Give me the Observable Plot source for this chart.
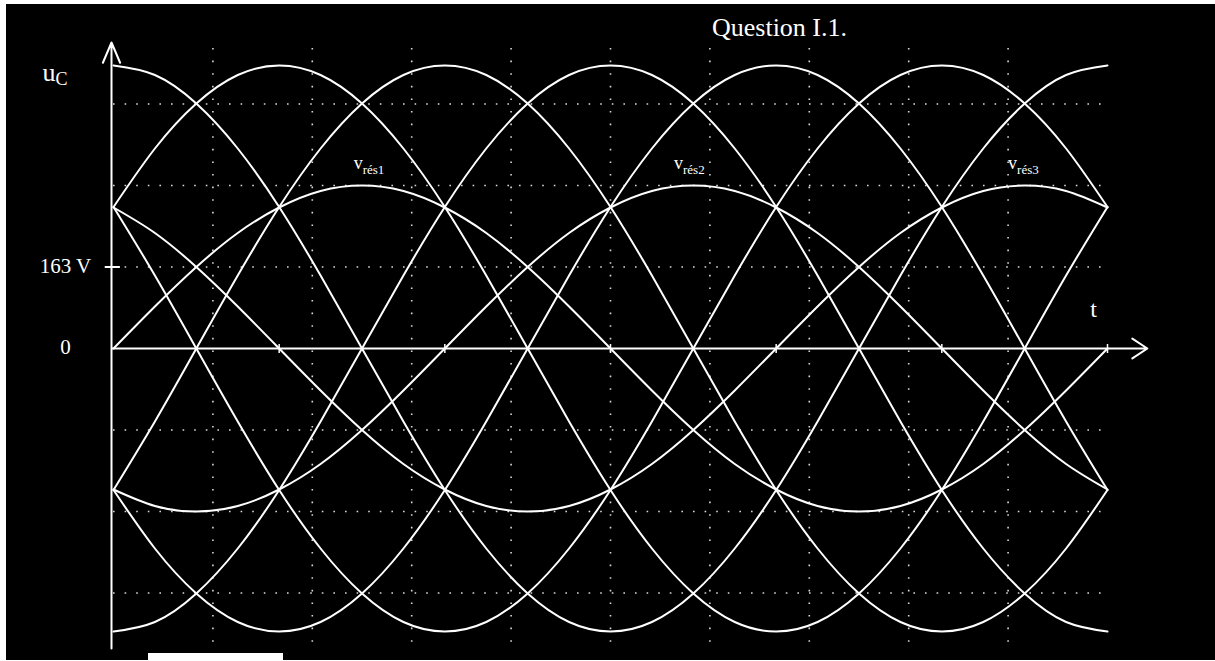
<!DOCTYPE html>
<html><head><meta charset="utf-8">
<script src="https://cdn.jsdelivr.net/npm/d3@7"></script>
<script src="https://cdn.jsdelivr.net/npm/@observablehq/plot@0.6"></script>
<style>
html,body{margin:0;padding:0;background:#fff;}
#wrap{position:relative;width:1215px;height:661px;overflow:hidden;background:#000;}
#wrap svg{display:block;}
.w{position:absolute;background:#fff;}
</style></head><body>
<div id="wrap"></div>
<script>
// angle (degrees) along t
const t = [0,15,30,45,60,75,90,105,120,135,150,165,180,195,210,225,240,255,270,285,300,315,330,345,360];
// composed voltages (V) and their opposites
const u32 = [566,547,490,400,283,146,0,-146,-283,-400,-490,-547,-566,-547,-490,-400,-283,-146,0,146,283,400,490,547,566];
const u12 = [283,400,490,547,566,547,490,400,283,146,0,-146,-283,-400,-490,-547,-566,-547,-490,-400,-283,-146,0,146,283];
const u13 = [-283,-146,0,146,283,400,490,547,566,547,490,400,283,146,0,-146,-283,-400,-490,-547,-566,-547,-490,-400,-283];
const u23 = [-566,-547,-490,-400,-283,-146,0,146,283,400,490,547,566,547,490,400,283,146,0,-146,-283,-400,-490,-547,-566];
const u21 = [-283,-400,-490,-547,-566,-547,-490,-400,-283,-146,0,146,283,400,490,547,566,547,490,400,283,146,0,-146,-283];
const u31 = [283,146,0,-146,-283,-400,-490,-547,-566,-547,-490,-400,-283,-146,0,146,283,400,490,547,566,547,490,400,283];
// network phase voltages (V)
const vres1 = [0,84,163,231,282,315,326,315,282,231,163,84,0,-84,-163,-231,-282,-315,-326,-315,-282,-231,-163,-84,0];
const vres2 = [-282,-315,-326,-315,-282,-231,-163,-84,0,84,163,231,282,315,326,315,282,231,163,84,0,-84,-163,-231,-282];
const vres3 = [282,231,163,84,0,-84,-163,-231,-282,-315,-326,-315,-282,-231,-163,-84,0,84,163,231,282,315,326,315,282];

const seriesNames = ["u32","u12","u13","u23","u21","u31","vres1","vres2","vres3"];
const seriesValues = [u32,u12,u13,u23,u21,u31,vres1,vres2,vres3];

// labels
const resLabels = ["rés1","rés2","rés3"];
const resLabelT = [87, 203, 324];
const resLabelV = [360, 360, 360];
const yTickValues = [0, 163];
const yTickLabels = ["0", "163 V"];
const gridT = [36,72,108,144,180,216,252,288,324];
const gridV = [-489,-326,-163,163,326,489];
const axisTickT = [60,120,180,240,300,360];

const table = seriesNames.flatMap((name, i) => t.map((tt, k) => ({series: name, t: tt, v: seriesValues[i][k]})));
const resTable = resLabels.map((s, i) => ({label: s, t: resLabelT[i], v: resLabelV[i]}));
const yTickTable = yTickValues.map((v, i) => ({v, label: yTickLabels[i]}));

const serif = "'Liberation Serif', 'Times New Roman', serif";
const W = "white";

const chart = Plot.plot({
  width: 1215,
  height: 661,
  marginLeft: 113,
  marginRight: 108,
  marginTop: 48,
  marginBottom: 13,
  style: {background: "black", color: "white", fontFamily: serif},
  x: {domain: [0, 360], axis: null},
  y: {domain: [-600, 600], axis: null},
  marks: [
    Plot.ruleX(gridT, {stroke: W, strokeWidth: 1.6, strokeDasharray: "1.6,11", strokeOpacity: 0.85}),
    Plot.ruleY(gridV, {stroke: W, strokeWidth: 1.6, strokeDasharray: "1.6,10", strokeOpacity: 0.85}),
    Plot.line(table, {x: "t", y: "v", z: "series", stroke: W, strokeWidth: 2, curve: "natural"}),
    Plot.arrow([0], {x1: 0, y1: 0, x2: 374.8, y2: 0, dx: -1, stroke: W, strokeWidth: 2, headLength: 13.5, headAngle: 67}),
    Plot.arrow([0], {x1: 0, y1: -600, x2: 0, y2: 612, dx: -2, stroke: W, strokeWidth: 2, headLength: 16.5, headAngle: 46}),
    Plot.ruleX(axisTickT, {y1: -10, y2: 8, stroke: W, strokeWidth: 1.5}),
    Plot.ruleY([yTickValues[1]], {x1: -3, x2: 2.5, stroke: W, strokeWidth: 2}),
    Plot.text(yTickTable, {y: "v", text: "label", frameAnchor: "left", dx: -48, dy: -1, textAnchor: "middle", fill: W, fontSize: 21, fontFamily: serif}),
    Plot.text(resTable, {x: "t", y: "v", text: () => "v", textAnchor: "start", lineAnchor: "bottom", fill: W, fontSize: 18, fontFamily: serif}),
    Plot.text(resTable, {x: "t", y: "v", text: "label", dx: 9, dy: 5, textAnchor: "start", lineAnchor: "bottom", fill: W, fontSize: 13, fontFamily: serif}),
    Plot.text(["u"], {frameAnchor: "top-left", dx: -71, dy: 32, textAnchor: "start", lineAnchor: "bottom", fill: W, fontSize: 26, fontFamily: serif}),
    Plot.text(["C"], {frameAnchor: "top-left", dx: -58, dy: 36, textAnchor: "start", lineAnchor: "bottom", fill: W, fontSize: 18, fontFamily: serif}),
    Plot.text(["t"], {frameAnchor: "top-left", dx: 980, dy: 268, textAnchor: "middle", lineAnchor: "bottom", fill: W, fontSize: 24, fontFamily: serif}),
    Plot.text(["Question I.1."], {frameAnchor: "top-left", dx: 666, dy: -13, textAnchor: "middle", lineAnchor: "bottom", fill: W, fontSize: 26, fontFamily: serif})
  ]
});
const wrap = document.getElementById("wrap");
wrap.appendChild(chart);
[[0,0,1215,4],[0,0,6,661],[0,660,1215,1],[148,653,135,8]].forEach(([l,tp,w,h]) => {
  const d = document.createElement("div");
  d.className = "w";
  d.style.left = l + "px"; d.style.top = tp + "px"; d.style.width = w + "px"; d.style.height = h + "px";
  wrap.appendChild(d);
});
</script>
</body></html>
